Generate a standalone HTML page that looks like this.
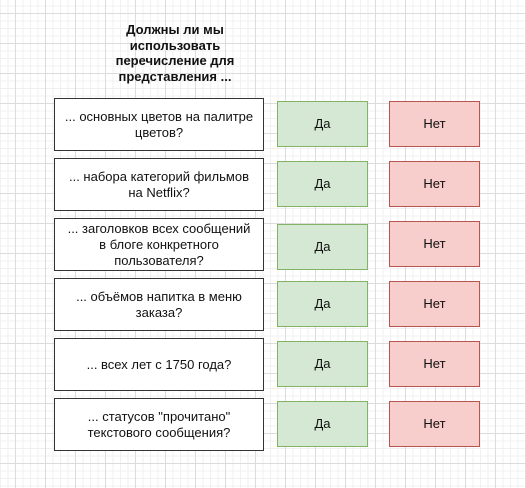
<!DOCTYPE html>
<html><head><meta charset="utf-8"><style>
body{margin:0;width:526px;height:488px;overflow:hidden;position:relative;font-family:"Liberation Sans","Noto Sans CJK SC",sans-serif;
background-color:#fff;
background-image:linear-gradient(#dcdcdc 1px,transparent 1px),linear-gradient(90deg,#dcdcdc 1px,transparent 1px),linear-gradient(#f0f0f0 1px,transparent 1px),linear-gradient(90deg,#f0f0f0 1px,transparent 1px);
background-size:30px 30px,30px 30px,7.5px 7.5px,7.5px 7.5px;background-position:15px 13px,15px 13px,15px 13px,15px 13px;}
.t{position:absolute;left:95px;top:22px;width:160px;text-align:center;font-weight:bold;font-size:13px;line-height:15.5px;color:#111}
.q,.y,.n{position:absolute;display:flex;align-items:center;justify-content:center;text-align:center;font-size:13px;line-height:16px;color:#111;box-sizing:border-box}
.q{left:54px;width:210px;height:53px;background:#fff;border:1.5px solid #333;padding:0 8px}
.y{left:277px;width:91px;height:46px;background:#d5e8d4;border:1px solid #82b366}
.n{left:389px;width:91px;height:46px;background:#f8cecc;border:1px solid #b85450}
</style></head><body>
<div class="t">Должны ли мы использовать перечисление для представления ...</div>
<div class="q" style="top:98px">... основных цветов на палитре цветов?</div>
<div class="y" style="top:101px">Да</div><div class="n" style="top:101px">Нет</div>
<div class="q" style="top:158px">... набора категорий фильмов на Netflix?</div>
<div class="y" style="top:161px">Да</div><div class="n" style="top:161px">Нет</div>
<div class="q" style="top:218px">... заголовков всех сообщений в блоге конкретного пользователя?</div>
<div class="y" style="top:224px">Да</div><div class="n" style="top:221px">Нет</div>
<div class="q" style="top:278px">... объёмов напитка в меню заказа?</div>
<div class="y" style="top:281px">Да</div><div class="n" style="top:281px">Нет</div>
<div class="q" style="top:338px">... всех лет с 1750 года?</div>
<div class="y" style="top:341px">Да</div><div class="n" style="top:341px">Нет</div>
<div class="q" style="top:398px">... статусов "прочитано" текстового сообщения?</div>
<div class="y" style="top:401px">Да</div><div class="n" style="top:401px">Нет</div>
</body></html>
